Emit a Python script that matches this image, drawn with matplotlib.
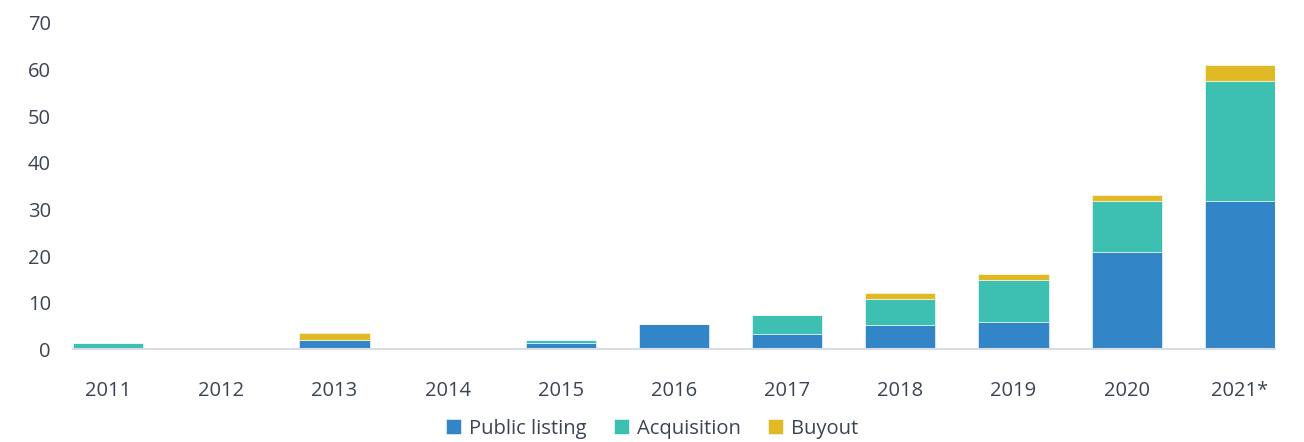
import numpy as np
import matplotlib
matplotlib.use('Agg')
import matplotlib.pyplot as plt

years = ["2011", "2012", "2013", "2014", "2015", "2016", "2017", "2018", "2019", "2020", "2021*"]
public_listing = [0, 0, 1.9, 0, 1.3, 5.4, 3.3, 5.3, 5.9, 20.9, 31.8]
acquisition = [1.3, 0, 0, 0, 0.7, 0, 4.1, 5.4, 8.9, 10.8, 25.7]
buyout = [0, 0, 1.5, 0, 0, 0, 0, 1.4, 1.3, 1.3, 3.4]

c_pub = "#3286c7"
c_acq = "#3dbfb1"
c_buy = "#e1b924"
text_col = "#3b4452"

plt.rcParams['font.family'] = ['Open Sans', 'DejaVu Sans']

fig = plt.figure(figsize=(13.04, 4.42), dpi=100)
ax = fig.add_axes([0.056, 0.2097, 0.9217, 0.7389])

x = np.arange(len(years))
w = 0.62
pub = np.array(public_listing)
acq = np.array(acquisition)
buy = np.array(buyout)

ax.bar(x, pub, w, color=c_pub, edgecolor='#ffffff', linewidth=0.4, label="Public listing")
ax.bar(x, acq, w, bottom=pub, color=c_acq, edgecolor='#ffffff', linewidth=0.4, label="Acquisition")
ax.bar(x, buy, w, bottom=pub + acq, color=c_buy, edgecolor='#ffffff', linewidth=0.4, label="Buyout")

ax.set_xlim(-w / 2, len(years) - 1 + w / 2)
ax.set_ylim(0, 70)
ax.set_yticks(range(0, 71, 10))
ax.set_xticks(x)
ax.set_xticklabels(years)

for s in ['top', 'right', 'left']:
    ax.spines[s].set_visible(False)
ax.spines['bottom'].set_color('#d9dde3')
ax.spines['bottom'].set_linewidth(1.5)

ax.tick_params(axis='y', length=0, pad=16, labelsize=14.5, labelcolor=text_col)
ax.tick_params(axis='x', length=0, pad=23, labelsize=14.5, labelcolor=text_col)

fig.legend(loc='center', bbox_to_anchor=(0.5, 0.03), ncol=3, frameon=False,
           fontsize=14.5, handlelength=0.75, handleheight=0.75, handletextpad=0.4,
           columnspacing=1.35, labelcolor=text_col)

plt.savefig("out.png", dpi=100)
